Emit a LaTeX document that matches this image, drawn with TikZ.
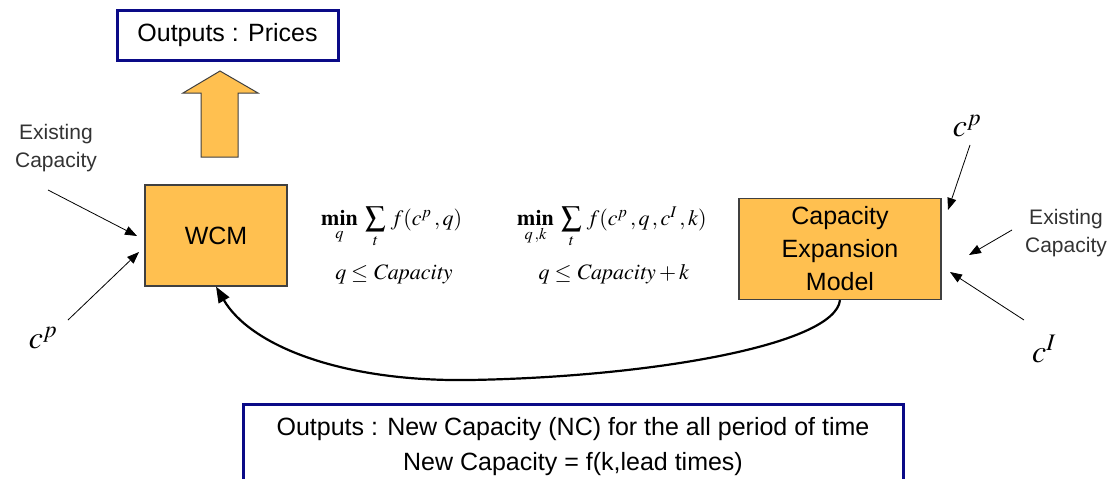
\documentclass[tikz,border=0pt]{standalone}
\usepackage{mathptmx}
\usepackage{fontspec}
\setmainfont{Liberation Sans}
\usetikzlibrary{arrows.meta}
\definecolor{boxfill}{RGB}{255,192,80}
\definecolor{navy}{RGB}{10,10,135}
\newcommand{\mybigsum}{\mathop{\vcenter{\hbox{\fontsize{29}{29}\selectfont$\sum$}}}}
\tikzset{
  modelbox/.style={draw=black!75, line width=1.2pt, fill=boxfill, inner sep=0pt, align=center,
    font=\fontsize{25}{33}\selectfont},
  outbox/.style={draw=navy, line width=3pt, fill=white, align=center, inner sep=0pt,
    font=\fontsize{25}{33}\selectfont},
  outtext/.style={align=center, inner sep=0pt, font=\fontsize{25}{35}\selectfont},
  sidelabel/.style={text=black!80, align=center, font=\fontsize{21}{28}\selectfont, inner sep=0pt},
  biglbl/.style={font=\fontsize{32}{36}\selectfont, inner sep=0pt},
  mathlbl/.style={font=\fontsize{22}{26}\selectfont, inner sep=0pt},
  inarrow/.style={draw=black, line width=0.8pt, -{Triangle[length=12pt,width=9pt]}},
  feedback/.style={draw=black, line width=2.2pt, -{Triangle[length=16pt,width=12pt]}},
  blockarrow/.style={draw=black!75, line width=1pt, fill=boxfill},
}
\begin{document}
\begin{tikzpicture}[x=1pt,y=-1pt]
\useasboundingbox (0,0) rectangle (1117,479);
% boxes
\node[modelbox, minimum width=142pt, minimum height=101pt] (wcm) at (216,235.5) {WCM};
\node[modelbox, minimum width=202pt, minimum height=101pt] (cem) at (840,249) {Capacity\\Expansion\\Model};
\node[outbox, minimum width=221pt, minimum height=50pt] (prices) at (227.5,35) {Outputs : Prices};
\node[outbox, minimum width=660pt, minimum height=120pt, anchor=north] (newcap) at (573,403) {};
\node[outtext] (nctext) at (573,447)
  {Outputs : New Capacity (NC) for the all period of time\\New Capacity = f(k,lead times)};
% block arrow
\path[blockarrow] (201,157) -- (238,157) -- (238,93) -- (258,93) -- (220,71) -- (183,93) -- (201,93) -- cycle;
% left labels
\node[sidelabel] (exL) at (56,148) {Existing\\Capacity};
\node[biglbl] (cpL) at (43,338) {$c^{p}$};
\coordinate (exLs) at (48,190);
\coordinate (exLe) at (137,236);
\coordinate (cpLs) at (68,320);
\coordinate (cpLe) at (139,252);
\draw[inarrow] (exLs) -- (exLe);
\draw[inarrow] (cpLs) -- (cpLe);
% right labels
\node[biglbl] (cpR) at (967,126) {$c^{p}$};
\node[sidelabel] (exR) at (1066,233) {Existing\\Capacity};
\node[biglbl] (ciR) at (1044,349) {$c^{I}$};
\coordinate (cpRs) at (970,145);
\coordinate (cpRe) at (948,210);
\coordinate (exRs) at (1012,230);
\coordinate (exRe) at (969,255);
\coordinate (ciRs) at (1024,320);
\coordinate (ciRe) at (950,272);
\draw[inarrow] (cpRs) -- (cpRe);
\draw[inarrow] (exRs) -- (exRe);
\draw[inarrow] (ciRs) -- (ciRe);
% formulas
\node[mathlbl, anchor=base west] (f1) at (321,225)
  {$\mathop{\mathbf{min}}\limits_{q}\;\mybigsum\limits_{t}\, f(c^{p}\,,q)$};
\node[mathlbl, anchor=base] (c1) at (394,279) {$q \le \mathit{Capacity}$};
\node[mathlbl, anchor=base west] (f2) at (517,225)
  {$\mathop{\mathbf{min}}\limits_{q\,,k}\;\mybigsum\limits_{t}\, f(c^{p}\,,q\,,c^{I}\,,k)$};
\node[mathlbl, anchor=base] (c2) at (614,279) {$q \le \mathit{Capacity}+k$};
% feedback curve
\draw[feedback] (cem.south) .. controls (835,345) and (650,377) .. (470,380)
  .. controls (340,382) and (250,345) .. (wcm.south);
\end{tikzpicture}
\end{document}
